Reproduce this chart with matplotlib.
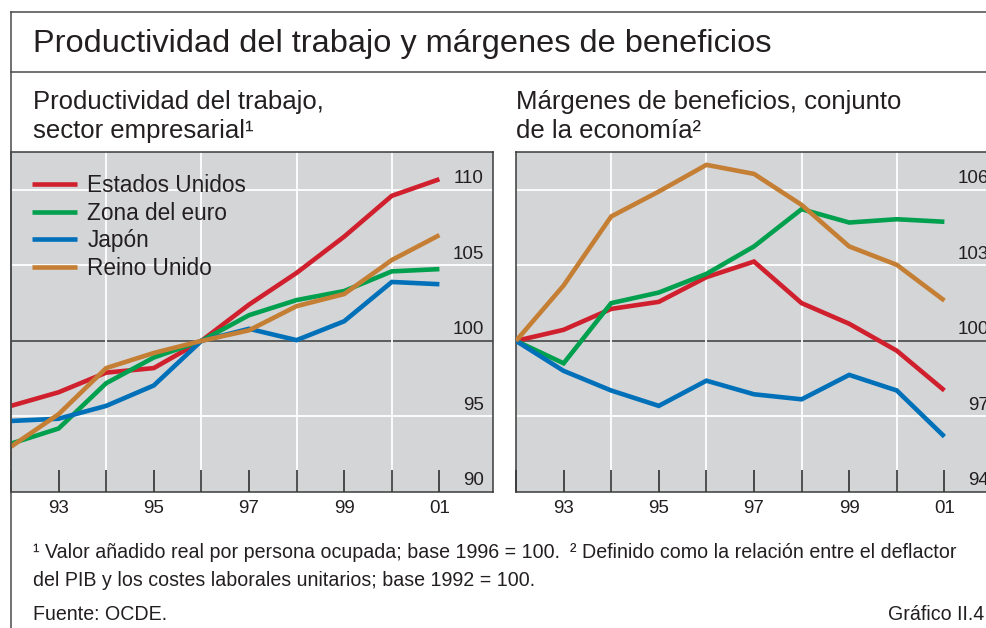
import numpy as np
import matplotlib.pyplot as plt
from matplotlib import font_manager
from matplotlib.lines import Line2D

# ----------------------------------------------------------------------
# Data
# ----------------------------------------------------------------------

years = [1992, 1993, 1994, 1995, 1996, 1997, 1998, 1999, 2000, 2001]
series_names = ['Estados Unidos', 'Zona del euro', 'Japón', 'Reino Unido']

# labour productivity, business sector (1996 = 100)
prod_us = [95.7, 96.6, 97.9, 98.2, 100.0, 102.4, 104.5, 106.9, 109.6, 110.7]
prod_euro = [93.2, 94.2, 97.2, 98.9, 100.0, 101.7, 102.7, 103.3, 104.6, 104.75]
prod_jp = [94.7, 94.85, 95.7, 97.05, 100.0, 100.8, 100.05, 101.3, 103.9, 103.75]
prod_uk = [93.0, 95.15, 98.2, 99.2, 100.0, 100.7, 102.3, 103.1, 105.35, 107.0]

# profit margins, whole economy (1992 = 100)
marg_us = [100.0, 100.44, 101.27, 101.55, 102.53, 103.15, 101.5, 100.68, 99.61, 98.03]
marg_euro = [100.0, 99.11, 101.5, 101.92, 102.66, 103.75, 105.23, 104.7, 104.83, 104.73]
marg_jp = [100.0, 98.81, 98.03, 97.42, 98.42, 97.88, 97.68, 98.65, 98.03, 96.2]
marg_uk = [100.0, 102.2, 104.94, 105.93, 106.99, 106.63, 105.4, 103.75, 103.02, 101.6]

left_yticks = [90, 95, 100, 105, 110]
right_yticks = [94, 97, 100, 103, 106]
xtick_labels = ['', '93', '', '95', '', '97', '', '99', '', '01']

colors = ['#d0202e', '#00a04e', '#0070b9', '#c47f35']

# ----------------------------------------------------------------------
# Fonts
# ----------------------------------------------------------------------

names = {f.name for f in font_manager.fontManager.ttflist}
main_font = 'Liberation Sans'
if 'Liberation Sans Narrow' in names:
    note_font, note_size = 'Liberation Sans Narrow', 15.5
else:
    note_font, note_size = 'Liberation Sans', 14.1

plt.rcParams['font.family'] = [main_font, 'DejaVu Sans']
txt = '#231f20'
bg = '#d4d5d7'

W, H = 986, 628
fig = plt.figure(figsize=(W / 100, H / 100), dpi=100)


def fx(px):
    return px / W


def fy(py):
    return 1 - py / H


def make_panel(left_px, data, yticks, ylim):
    ax = fig.add_axes([fx(left_px), fy(492), 482 / W, 340 / H])
    ax.set_facecolor(bg)
    ax.set_xlim(1992, 1992 + 482 / 47.6)
    ax.set_ylim(*ylim)
    for y in yticks:
        if y == 100:
            ax.axhline(y, color='#3a3a3a', lw=1.1, zorder=1)
        elif y != ylim[0]:
            ax.axhline(y, color='white', lw=1.3, zorder=1)
        ax.annotate(str(y), xy=(1, y), xycoords=('axes fraction', 'data'),
                    xytext=(-6.5, 2), textcoords='offset points',
                    ha='right', va='bottom', fontsize=13.5, color=txt)
    for yr in years[2::2]:
        ax.axvline(yr, color='white', lw=1.3, zorder=1)
    for vals, c, name in zip(data, colors, series_names):
        ax.plot(years, vals, color=c, lw=3.3, label=name, zorder=3,
                solid_capstyle='butt', solid_joinstyle='miter')
    ax.set_xticks(years)
    ax.set_xticklabels(xtick_labels)
    ax.set_yticks([])
    ax.tick_params(axis='x', direction='in', length=16, width=1.1,
                   color='#222222', labelsize=13.5, labelcolor=txt, pad=6)
    for s in ax.spines.values():
        s.set_color('#3a3a3a')
        s.set_linewidth(1.1)
    return ax


ax1 = make_panel(11, [prod_us, prod_euro, prod_jp, prod_uk], left_yticks, (90, 112.5))
ax2 = make_panel(516, [marg_us, marg_euro, marg_jp, marg_uk], right_yticks, (94, 107.5))

ax1.legend(loc='upper left', bbox_to_anchor=(fx(32), fy(174)),
           bbox_transform=fig.transFigure, frameon=False, fontsize=16.3,
           handlelength=2.0, handletextpad=0.45, labelspacing=0.2,
           borderpad=0, borderaxespad=0, labelcolor=txt)

# frame lines
frame = '#4a4a4a'
fig.add_artist(Line2D([fx(11), fx(11)], [0, fy(12)], transform=fig.transFigure,
                      color=frame, lw=1.1))
fig.add_artist(Line2D([fx(11), 1], [fy(12), fy(12)], transform=fig.transFigure,
                      color=frame, lw=1.1))
fig.add_artist(Line2D([fx(11), 1], [fy(72), fy(72)], transform=fig.transFigure,
                      color=frame, lw=1.1))

# titles
fig.text(fx(33), fy(44), 'Productividad del trabajo y márgenes de beneficios',
         fontsize=23.4, color=txt, va='center')
fig.text(fx(33), fy(102), 'Productividad del trabajo,', fontsize=18.5, color=txt, va='center')
fig.text(fx(33), fy(131), 'sector empresarial¹', fontsize=18.5, color=txt, va='center')
fig.text(fx(516), fy(102), 'Márgenes de beneficios, conjunto', fontsize=18.5, color=txt, va='center')
fig.text(fx(516), fy(131), 'de la economía²', fontsize=18.5, color=txt, va='center')

# footnotes
note = dict(fontsize=note_size, family=note_font, color=txt, va='center')
fig.text(fx(33), fy(553), '¹ Valor añadido real por persona ocupada; base 1996 = 100.', **note)
fig.text(fx(570), fy(553), '² Definido como la relación entre el deflactor', **note)
fig.text(fx(33), fy(580), 'del PIB y los costes laborales unitarios; base 1992 = 100.', **note)
fig.text(fx(33), fy(614), 'Fuente: OCDE.', **note)
fig.text(fx(984), fy(614), 'Gráfico II.4', ha='right', **note)

fig.savefig('out.png', dpi=100)
